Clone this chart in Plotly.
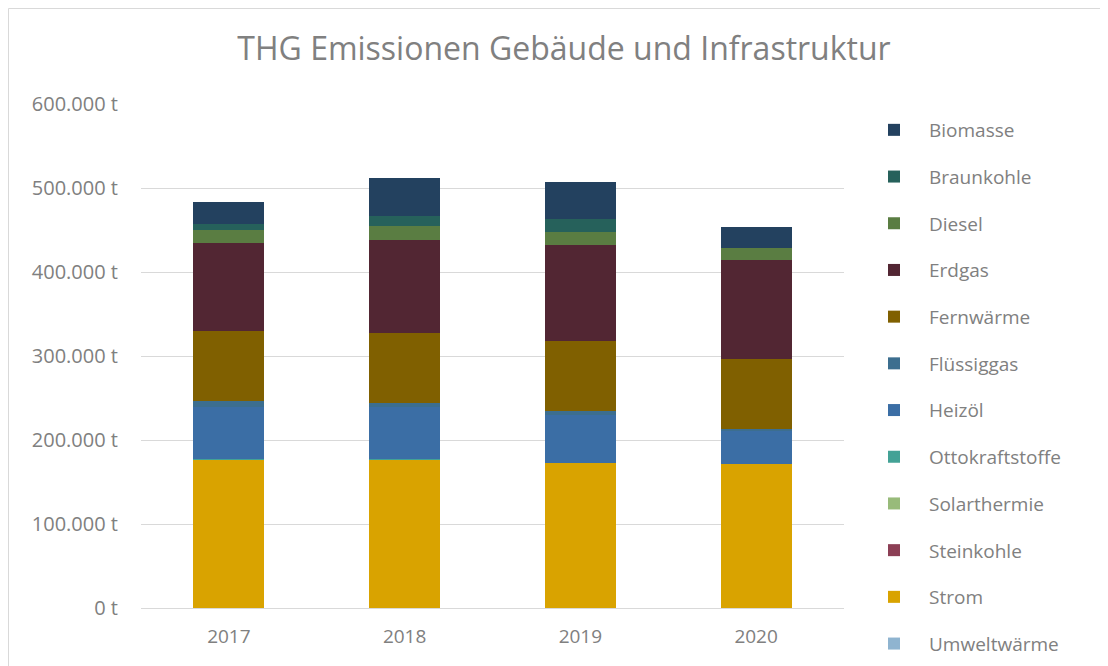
import plotly.graph_objects as go

years = ["2017", "2018", "2019", "2020"]

# series in stacking order (bottom -> top)
umweltwaerme = [100, 100, 100, 100]
strom = [177000, 176800, 172600, 171400]
steinkohle = [100, 100, 100, 100]
solarthermie = [100, 100, 100, 100]
ottokraftstoffe = [100, 100, 100, 100]
heizoel = [62300, 62100, 56400, 40000]
fluessiggas = [6800, 5100, 5100, 1000]
fernwaerme = [83400, 83300, 83400, 84200]
erdgas = [105100, 110400, 113900, 117400]
diesel = [15100, 16700, 15800, 14200]
braunkohle = [6800, 12200, 15100, 0]
biomasse = [26200, 44500, 44100, 25500]

series = [
    ("Umweltwärme", umweltwaerme, "#8fb4d0"),
    ("Strom", strom, "#d9a300"),
    ("Steinkohle", steinkohle, "#8c3f55"),
    ("Solarthermie", solarthermie, "#98bb7a"),
    ("Ottokraftstoffe", ottokraftstoffe, "#43a296"),
    ("Heizöl", heizoel, "#3b6ea5"),
    ("Flüssiggas", fluessiggas, "#3c6e8f"),
    ("Fernwärme", fernwaerme, "#806000"),
    ("Erdgas", erdgas, "#522633"),
    ("Diesel", diesel, "#5a7d42"),
    ("Braunkohle", braunkohle, "#26615b"),
    ("Biomasse", biomasse, "#23415f"),
]

tick_vals = [0, 100000, 200000, 300000, 400000, 500000, 600000]
tick_text = ["0 t", "100.000 t", "200.000 t", "300.000 t", "400.000 t", "500.000 t", "600.000 t"]

fig = go.Figure()
n = len(series)
for i, (name, vals, col) in enumerate(series):
    fig.add_trace(go.Bar(
        x=years, y=vals, name=name, legendgroup=name, legendrank=1000 + (n - i),
        marker=dict(color=col, line=dict(width=0)),
    ))

font_family = "Open Sans, Noto Sans, sans-serif"
grey = "#808080"
fig.update_layout(
    width=1108, height=666,
    barmode="stack", bargap=0.597,
    paper_bgcolor="white", plot_bgcolor="white",
    margin=dict(l=133, r=272, t=96, b=66, autoexpand=False),
    title=dict(text="THG Emissionen Gebäude und Infrastruktur", x=556 / 1108, xanchor="center",
               xref="container", y=1 - 41 / 666, yanchor="middle", yref="container",
               font=dict(family=font_family, size=32, color=grey)),
    font=dict(family=font_family, color=grey),
    xaxis=dict(showgrid=False, showline=False, ticks="", ticklabelstandoff=15,
               tickfont=dict(size=19, color=grey)),
    yaxis=dict(range=[0, 600000], tickvals=tick_vals, ticktext=tick_text, showgrid=True,
               gridcolor="#d9d9d9", gridwidth=1, zeroline=True, zerolinecolor="#d9d9d9",
               zerolinewidth=1, ticks="", ticklabelstandoff=22,
               tickfont=dict(size=20, color=grey)),
    legend=dict(traceorder="grouped", x=851 / 1108, xanchor="left", xref="container",
                y=1 - 103 / 666, yanchor="top", yref="container", maxheight=1,
                tracegroupgap=19, font=dict(size=19, color=grey), itemwidth=60,
                bgcolor="rgba(0,0,0,0)"),
    showlegend=True,
)

fig.add_shape(type="rect", xref="paper", yref="paper",
              x0=(0.5 - 133) / 703, x1=(1120 - 133) / 703,
              y0=(600 - 680) / 504, y1=(600 - 0.5) / 504,
              line=dict(color="#d9d9d9", width=1), fillcolor="rgba(0,0,0,0)", layer="below")

fig.write_html("out.html")
